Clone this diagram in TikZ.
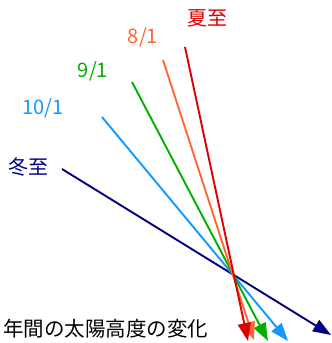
\documentclass[tikz,border=0pt]{standalone}
\usepackage{fontspec}
\setmainfont{Noto Sans CJK JP}
\usetikzlibrary{arrows.meta}
\definecolor{cRed}{HTML}{E00000}
\definecolor{cOrange}{HTML}{FF6633}
\definecolor{cGreen}{HTML}{00B000}
\definecolor{cBlue}{HTML}{1199FF}
\definecolor{cNavy}{HTML}{000080}
\begin{document}
\begin{tikzpicture}[x=1pt,y=-1pt,
  ray/.style={line width=1.9pt,-{Triangle[length=18pt,width=13pt]}},
  lab/.style={inner sep=0pt,font=\fontsize{20}{20}\selectfont}]
\useasboundingbox (0,0) rectangle (332,343);
% labels
\node[lab,text=cRed] (lsummer) at (207,18) {夏至};
\node[lab,text=cOrange] (laug) at (143,37) {8/1};
\node[lab,text=cGreen] (lsep) at (93,71) {9/1};
\node[lab,text=cBlue] (loct) at (43,108) {10/1};
\node[lab,text=cNavy] (lwinter) at (29,167) {冬至};
\node[lab,text=black,font=\fontsize{20.5}{20}\selectfont] (title) at (106,329) {年間の太陽高度の変化};
% ray endpoints
\coordinate (sR) at (185,47);  \coordinate (eR) at (248,341);
\coordinate (sO) at (163,60);  \coordinate (eO) at (254,340);
\coordinate (sG) at (132,82);  \coordinate (eG) at (268,341);
\coordinate (sB) at (102,117); \coordinate (eB) at (288,341);
\coordinate (sN) at (62,169);  \coordinate (eN) at (331,335);
\draw[ray,cNavy] (sN) -- (eN);
\draw[ray,cBlue] (sB) -- (eB);
\draw[ray,cGreen] (sG) -- (eG);
\draw[ray,cOrange] (sO) -- (eO);
\draw[ray,cRed] (sR) -- (eR);
\end{tikzpicture}
\end{document}
